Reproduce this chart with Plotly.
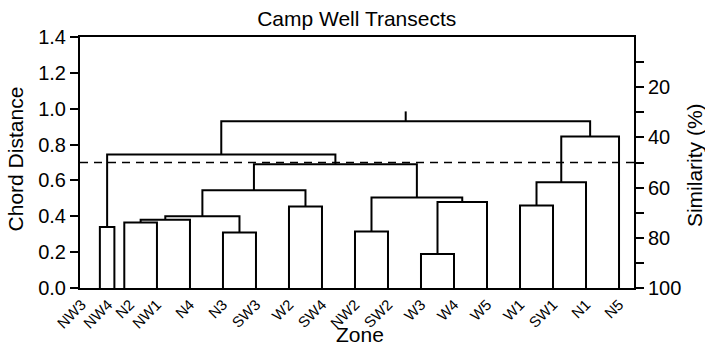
import plotly.graph_objects as go

# ---- data ----
leaves = ["NW3", "NW4", "N2", "NW1", "N4", "N3", "SW3", "W2", "SW4",
          "NW2", "SW2", "W3", "W4", "W5", "W1", "SW1", "N1", "N5"]
# leaf coordinate along the Zone axis (first three leaves are crowded in the original)
leaf_x = [1.27, 1.71, 2.01, 3, 4, 5, 6, 7, 8, 9, 10, 11, 12, 13, 14, 15, 16, 17]
# where each zone label sits on the axis
label_x = [0.72, 1.52, 2.18, 3, 4, 5, 6, 7, 8, 9, 10, 11, 12, 13, 14, 15, 16, 17]

# linkage: (left cluster id, right cluster id), leaves are 0..17, new clusters 18, 19, ...
merge_left = [0, 2, 19, 5, 20, 7, 22, 9, 11, 26, 25, 24, 18, 14, 31, 32, 30]
merge_right = [1, 3, 4, 6, 21, 8, 23, 10, 12, 13, 27, 28, 29, 15, 16, 17, 33]
merge_height = [0.34, 0.365, 0.38, 0.31, 0.40, 0.455, 0.545, 0.315, 0.19,
                0.48, 0.505, 0.69, 0.745, 0.46, 0.59, 0.845, 0.93]
root_stub_top = 0.985

cut_similarity = 50          # dashed cut line (% similarity)
chord_ticks = [0.0, 0.2, 0.4, 0.6, 0.8, 1.0, 1.2, 1.4]
sim_ticks = [20, 40, 60, 80, 100]
sim_minor = [10, 30, 50, 70, 90]

# ---- build dendrogram segments from the linkage ----
node_x = list(leaf_x)
node_h = [0.0] * len(leaf_x)
xs, ys = [], []
for a, b, h in zip(merge_left, merge_right, merge_height):
    xa, xb = node_x[a], node_x[b]
    xs += [xa, xa, xb, xb, None]
    ys += [node_h[a], h, h, node_h[b], None]
    node_x.append((xa + xb) / 2)
    node_h.append(h)
xs += [node_x[-1], node_x[-1], None]
ys += [node_h[-1], root_stub_top, None]

FONT = "Liberation Sans, Arial, Helvetica, sans-serif"

fig = go.Figure()
fig.add_trace(go.Scatter(x=xs, y=ys, mode="lines",
                         line=dict(color="black", width=2),
                         hoverinfo="skip", showlegend=False))
# invisible trace so the similarity axis is drawn
fig.add_trace(go.Scatter(x=[leaf_x[0]], y=[sim_ticks[-1]], yaxis="y2",
                         mode="markers", marker=dict(opacity=0),
                         hoverinfo="skip", showlegend=False))

fig.add_shape(type="line", xref="paper", x0=0, x1=1, yref="y2",
              y0=cut_similarity, y1=cut_similarity,
              line=dict(color="black", width=1.5, dash="8px,6px"))

title_font = dict(family=FONT, size=21, color="black")
fig.add_annotation(text="Chord Distance", xref="paper", yref="paper",
                   x=-0.117, y=0.513, xanchor="center", yanchor="middle",
                   textangle=-90, showarrow=False, font=title_font)
fig.add_annotation(text="Similarity (%)", xref="paper", yref="paper",
                   x=1.108, y=0.489, xanchor="center", yanchor="middle",
                   textangle=-90, showarrow=False, font=title_font)
fig.add_annotation(text="Zone", xref="paper", yref="paper",
                   x=0.505, y=-0.185, xanchor="center", yanchor="middle",
                   showarrow=False, font=title_font)

fig.update_layout(
    template="none",
    width=705, height=354,
    margin=dict(l=80, r=71, t=37, b=66, autoexpand=False),
    paper_bgcolor="white", plot_bgcolor="white",
    font=dict(family=FONT, color="black", size=20),
    title=dict(text="Camp Well Transects", x=0.506, xanchor="center",
               y=0.948, yanchor="middle", font=dict(size=21)),
    xaxis=dict(range=[0.668, 17.454], tickmode="array", tickvals=label_x,
               ticktext=leaves, tickangle=-45, ticks="", automargin=False,
               tickfont=dict(size=15), showgrid=False, zeroline=False,
               showline=True, linecolor="black", linewidth=2, mirror=True),
    yaxis=dict(range=[0, 1.4], tickmode="array", tickvals=chord_ticks,
               ticktext=[f"{v:.1f}" for v in chord_ticks], automargin=False,
               ticks="outside", ticklen=8, tickwidth=2, tickcolor="black",
               showgrid=False, zeroline=False, showline=True,
               linecolor="black", linewidth=2, mirror=True),
    yaxis2=dict(overlaying="y", side="right", range=[100, 0],
                tickmode="array", tickvals=sim_ticks, automargin=False,
                ticks="outside", ticklen=8, tickwidth=2, tickcolor="black",
                minor=dict(tickmode="array", tickvals=sim_minor, ticks="outside",
                           ticklen=8, tickwidth=2, tickcolor="black", showgrid=False),
                showgrid=False, zeroline=False, showline=True,
                linecolor="black", linewidth=2),
)

fig.write_html("out.html",
               config={"displayModeBar": False},
               post_script="document.body.style.margin='0';"
                           "document.body.style.overflow='hidden';")
